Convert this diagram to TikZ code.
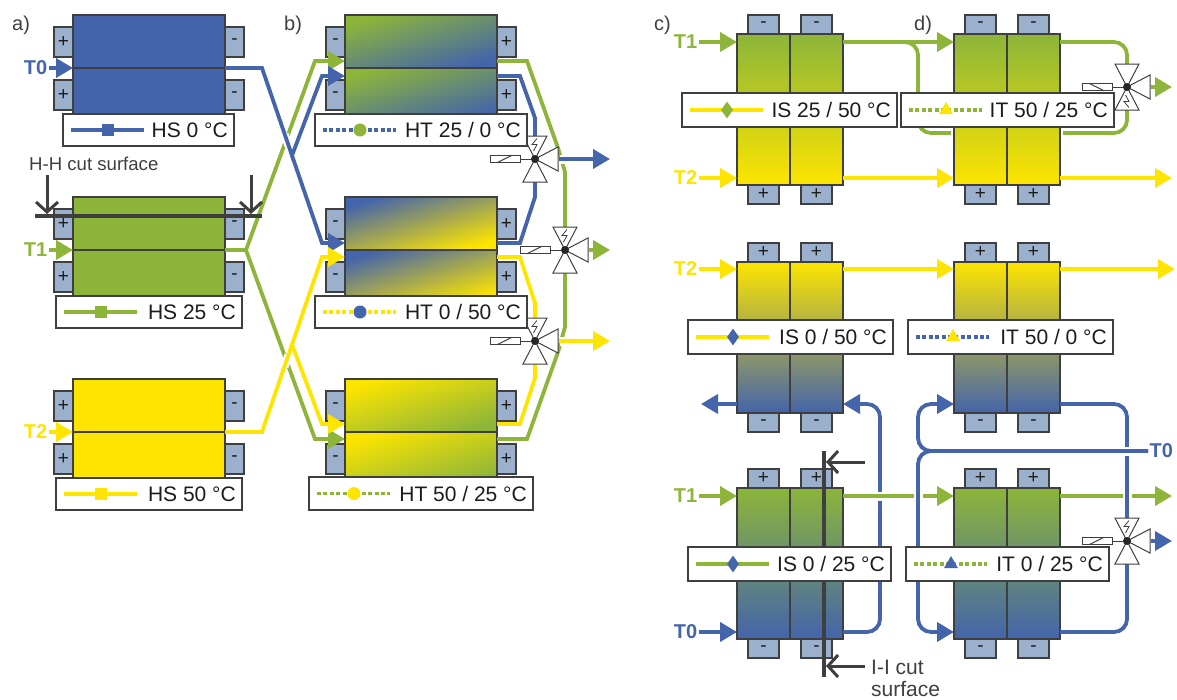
\documentclass[tikz,border=0pt]{standalone}
\usepackage{fontspec}
\setmainfont{Liberation Sans}
\usetikzlibrary{arrows.meta,shapes.geometric}

\definecolor{colblue}{HTML}{4464AB}
\definecolor{colgreen}{HTML}{8CB53A}
\definecolor{colyellow}{HTML}{FDE500}
\definecolor{coltab}{HTML}{9BB0CC}
\definecolor{coledge}{HTML}{3F3F3F}
\definecolor{coltext}{HTML}{1C1C1C}

\tikzset{
  modul/.style={draw=coledge, line width=1.2pt, inner sep=0pt, outer sep=0pt, anchor=north west},
  tabbox/.style={draw=coledge, fill=coltab, line width=1.2pt, inner sep=0pt, outer sep=0pt,
    text=coltext, font=\fontsize{19}{19}\selectfont},
  pipe/.style={line width=3.8pt},
  pipegap/.style={white, line width=9pt},
  legbox/.style={draw=coledge, fill=white, line width=1.2pt, inner sep=0pt, outer sep=0pt, anchor=north west},
  legtext/.style={anchor=east, inner sep=0pt, text=coltext, font=\fontsize{21}{24}\selectfont},
  legsolid/.style={line width=3.8pt},
  legdots/.style={line width=3.8pt, dash pattern=on 4pt off 2.4pt},
  mksquare/.style={rectangle, minimum size=12pt, inner sep=0pt},
  mkcircle/.style={circle, minimum size=13pt, inner sep=0pt},
  mkdiamond/.style={diamond, minimum width=12pt, minimum height=17pt, inner sep=0pt},
  mktriangle/.style={regular polygon, regular polygon sides=3, minimum size=16pt, inner sep=0pt},
  tlabel/.style={anchor=east, inner sep=1.5pt, font=\fontsize{20}{22}\bfseries\selectfont},
  panellabel/.style={anchor=west, inner sep=0pt, text=coledge, font=\fontsize{20}{24}\selectfont},
  cutlabel/.style={anchor=west, inner sep=0pt, text=coledge, font=\fontsize{21}{24}\selectfont},
  cutline/.style={coledge, line width=3.3pt},
  cutarrow/.style={draw=coledge, line width=3pt, shorten >=2pt, -{Straight Barb[length=10pt,width=22pt,line width=3pt]}},
  valvepic/.pic={
    \draw[coledge, line width=1pt] (-20,0) -- (0,0);
    \draw[coledge, line width=1pt, fill=white] (-45,-3.7) rectangle (-15,3.7);
    \draw[coledge, line width=1pt] (-38,3.7) -- (-23,-3.7);
    \draw[coledge, line width=1pt, fill=white] (0,0) -- (-12,-23) -- (12,-23) -- cycle;
    \draw[coledge, line width=1pt, fill=white] (0,0) -- (-12,23) -- (12,23) -- cycle;
    \draw[coledge, line width=1pt, fill=white] (0,0) -- (23,-12) -- (23,12) -- cycle;
    \draw[coledge, line width=0.8pt] (2,-20.5) -- (-3,-14.5) -- (2,-14.5) -- (-1.5,-8);
    \fill[coledge!60!black] (0,0) circle (4);
    \coordinate (-out) at (24,0);
  }
}

\begin{document}
\begin{tikzpicture}[x=1pt, y=-1pt, >={Triangle[length=17pt,width=19pt]}]
  \useasboundingbox (0,0) rectangle (1177,699);

  %--- panel labels ---
  \node[panellabel] (pa) at (12,25)  {a)};
  \node[panellabel] (pb) at (284,25) {b)};
  \node[panellabel] (pc) at (654,25) {c)};
  \node[panellabel] (pd) at (914,25) {d)};

  %--- horizontal stacks a) and b) ---
  \foreach \nm/\xm/\yt/\ca/\cb/\ang/\sgl/\sgr in {
      hsA/73/15/colblue/colblue/0/+/-,
      hsB/73/197/colgreen/colgreen/0/+/-,
      hsC/73/379/colyellow/colyellow/0/+/-,
      htA/345/15/colgreen/colblue/17/-/+,
      htB/345/197/colblue/colyellow/17/-/+,
      htC/345/379/colyellow/colgreen/17/-/+} {
    \node[modul, minimum width=152pt, minimum height=53pt, top color=\ca, bottom color=\cb, shading angle=\ang]
      (\nm t) at (\xm,\yt) {};
    \node[modul, minimum width=152pt, minimum height=53pt, top color=\ca, bottom color=\cb, shading angle=\ang]
      (\nm b) at (\nm t.south west) {};
    \node[tabbox, minimum width=19pt, minimum height=30pt, anchor=north east] (\nm lt) at ([yshift=-12pt]\nm t.north west) {\sgl};
    \node[tabbox, minimum width=19pt, minimum height=30pt, anchor=north east] (\nm lb) at ([yshift=-12pt]\nm b.north west) {\sgl};
    \node[tabbox, minimum width=19pt, minimum height=30pt, anchor=north west] (\nm rt) at ([yshift=-12pt]\nm t.north east) {\sgr};
    \node[tabbox, minimum width=19pt, minimum height=30pt, anchor=north west] (\nm rb) at ([yshift=-12pt]\nm b.north east) {\sgr};
  }

  %--- column pairs c) and d) ---
  \foreach \nm/\xm/\yt/\ca/\cb/\sgt/\sgb in {
      cA/737/34/colgreen/colyellow/-/+,
      dA/954/34/colgreen/colyellow/-/+,
      cB/737/262/colyellow/colblue/+/-,
      dB/954/262/colyellow/colblue/+/-,
      cC/737/488/colgreen/colblue/+/-,
      dC/954/488/colgreen/colblue/+/-} {
    \node[modul, minimum width=53pt, minimum height=151pt, top color=\ca, bottom color=\cb] (\nm l) at (\xm,\yt) {};
    \node[modul, minimum width=53pt, minimum height=151pt, top color=\ca, bottom color=\cb] (\nm r) at (\nm l.north east) {};
    \foreach \sd in {l,r} {
      \node[tabbox, minimum width=31pt, minimum height=19pt, anchor=south] (\nm\sd top) at (\nm\sd.north) {\sgt};
      \node[tabbox, minimum width=31pt, minimum height=19pt, anchor=north] (\nm\sd bot) at (\nm\sd.south) {\sgb};
    }
  }

  %--- temperature labels ---
  \node[tlabel, text=colblue]   (tzA) at (49,68)  {T0};
  \node[tlabel, text=colgreen]  (toA) at (49,250) {T1};
  \node[tlabel, text=colyellow] (ttA) at (49,432) {T2};
  \node[tlabel, text=colgreen]  (toC) at (699,42)  {T1};
  \node[tlabel, text=colyellow] (ttC) at (699,178) {T2};
  \node[tlabel, text=colyellow] (ttB) at (699,269) {T2};
  \node[tlabel, text=colgreen]  (toD) at (699,496) {T1};
  \node[tlabel, text=colblue]   (tzD) at (699,632) {T0};
  \node[tlabel, text=colblue, anchor=west] (tzE) at (1148,451) {T0};

  %--- junctions, valve centres, free ends ---
  \coordinate (jgreen) at (246,250);
  \coordinate (jblue) at (292,155.5);
  \coordinate (jyellow) at (292,344.5);
  \coordinate (vAc) at (535,159);
  \coordinate (vBc) at (565,250);
  \coordinate (vCc) at (535,341);
  \coordinate (vDc) at (1127,87);
  \coordinate (vEc) at (1127,541);
  \coordinate (outA) at (610,159);
  \coordinate (outB) at (610,250);
  \coordinate (outC) at (610,341);
  \coordinate (outD) at (1172,87);
  \coordinate (outE) at (1172,541);
  \coordinate (outF) at (1172,178);
  \coordinate (outG) at (1175,269);
  \coordinate (outH) at (701,404);
  \coordinate (outI) at (1172,496);

  %--- a) inlets ---
  \draw[pipe, colblue, ->]   (tzA.east) -- (hsAt.south west);
  \draw[pipe, colgreen, ->]  (toA.east) -- (hsBt.south west);
  \draw[pipe, colyellow, ->] (ttA.east) -- (hsCt.south west);

  %--- a) to b) ---
  \draw[pipe, colgreen, ->] (hsBt.south east) -- (jgreen) -- (315,61) -- ([yshift=7pt]htAt.south west);
  \draw[pipe, colgreen, ->] (jgreen) -- (315,439) -- ([yshift=-7pt]htCb.north west);
  \draw[pipegap, line width=8pt] (284.5,134) -- (288.5,146);
  \draw[pipegap, line width=8pt] (284.4,367) -- (288.4,355);
  \draw[pipe, colblue, ->] (hsAt.south east) -- (262,68) -- (jblue) -- (322,76) -- ([yshift=-8pt]htAb.north west);
  \draw[pipe, colblue, ->] (jblue) -- (322,243) -- ([yshift=7pt]htBt.south west);
  \draw[pipe, colyellow, ->] (hsCt.south east) -- (262,432) -- (322,257) -- ([yshift=-7pt]htBb.north west);
  \draw[pipe, colyellow, ->] (jyellow) -- (322,424) -- ([yshift=8pt]htCt.south west);

  %--- b) to valves ---
  \draw[pipe, colgreen] ([yshift=7pt]htAt.south east) -- (527,61) -- (558,148) -- (565,172) -- (565,327)
    -- (558,352) -- (527,439) -- ([yshift=-7pt]htCb.north east);
  \draw[pipe, colblue] ([yshift=-8pt]htAb.north east) -- (520,76) -- (535,118) -- (vAc) -- (535,197) -- (520,243)
    -- ([yshift=7pt]htBt.south east);
  \draw[pipe, colyellow] ([yshift=-7pt]htBb.north east) -- (520,257) -- (535,303) -- (vCc) -- (535,378) -- (520,424)
    -- ([yshift=8pt]htCt.south east);

  %--- c) and d), row 1 ---
  \draw[pipe, colgreen, ->] (toC.east) -- (toC.east -| cAl.west);
  \draw[pipe, colgreen, rounded corners=13pt] (cAr.east |- toC) -- (918,42) -- (918,133) -- (951,133);
  \draw[pipe, colgreen, ->] (cAr.east |- toC) -- (dAl.west |- toC);
  \draw[pipe, colgreen, rounded corners=13pt] (dAr.east |- toC) -- (1127,42) -- (vDc);
  \draw[pipe, colgreen, rounded corners=13pt] (1063,133) -- (1127,133) -- (vDc);
  \draw[pipe, colyellow, ->] (ttC.east) -- (ttC.east -| cAl.west);
  \draw[pipe, colyellow, ->] (cAr.east |- ttC) -- (dAl.west |- ttC);
  \draw[pipe, colyellow, ->] (dAr.east |- ttC) -- (outF);

  %--- row 2 and row 3, c) side ---
  \draw[pipe, colyellow, ->] (ttB.east) -- (ttB.east -| cBl.west);
  \draw[pipe, colyellow, ->] (cBr.east |- ttB) -- (dBl.west |- ttB);
  \draw[pipe, colyellow, ->] (dBr.east |- ttB) -- (outG);
  \draw[pipe, colblue, ->] (cBl.west |- outH) -- (outH);
  \draw[pipe, colblue, ->] (tzD.east) -- (tzD.east -| cCl.west);
  \draw[pipe, colblue, ->, rounded corners=13pt] (cCr.east |- tzD) -- (880,632) -- (880,404) -- (cBr.east |- outH);

  %--- green through row 3, blue over it on the d) side ---
  \draw[pipegap] (875,496) -- (885,496);
  \draw[pipe, colgreen, ->] (toD.east) -- (toD.east -| cCl.west);
  \draw[pipe, colgreen, ->] (cCr.east |- toD) -- (dCl.west |- toD);
  \draw[pipe, colgreen, ->] (dCr.east |- toD) -- (outI);
  \draw[pipegap] (918,491) -- (918,501);
  \draw[pipegap] (1127,491) -- (1127,501);
  \draw[pipe, colblue, rounded corners=13pt] (dBr.east |- outH) -- (1127,404) -- (1127,632) -- (dCr.east |- tzD);
  \draw[pipegap] (1122,451) -- (1132,451);
  \draw[pipe, colblue, ->, rounded corners=13pt] (tzE.west) -- (918,451) -- (918,404) -- (dBl.west |- outH);
  \draw[pipe, colblue, ->, rounded corners=13pt] (tzE.west) -- (918,451) -- (918,632) -- (dCl.west |- tzD);

  %--- cut surfaces ---
  \coordinate (cutHa) at (35,216);
  \coordinate (cutHb) at (262,216);
  \coordinate (arHa) at (47,175);
  \coordinate (arHb) at (251,175);
  \draw[cutline] (cutHa) -- (cutHb);
  \draw[cutarrow] (arHa) -- (arHa |- cutHa);
  \draw[cutarrow] (arHb) -- (arHb |- cutHb);
  \node[cutlabel, font=\fontsize{18.6}{22}\selectfont] (cutHt) at (29,164) {H-H cut surface};

  \coordinate (cutIa) at (824,451);
  \coordinate (cutIb) at (824,677);
  \coordinate (arIa) at (865,462);
  \coordinate (arIb) at (865,666);
  \draw[cutline] (cutIa) -- (cutIb);
  \draw[cutarrow] (arIa) -- (arIa -| cutIa);
  \draw[cutarrow] (arIb) -- (arIb -| cutIb);
  \node[cutlabel] (cutIt) at (871,667) {I-I cut};
  \node[cutlabel] (cutIu) at (871,688.5) {surface};

  %--- valves ---
  \pic (vA) at (vAc) {valvepic};
  \pic (vB) at (vBc) {valvepic};
  \pic (vC) at (vCc) {valvepic};
  \pic[yscale=-1] (vD) at (vDc) {valvepic};
  \pic (vE) at (vEc) {valvepic};

  %--- valve outlets ---
  \draw[pipegap] ([xshift=1pt]vA-out) -- ++(10,0);
  \draw[pipegap] ([xshift=1pt]vC-out) -- ++(10,0);
  \draw[pipe, colblue, ->]   (vA-out) -- (outA);
  \draw[pipe, colgreen, ->]  (vB-out) -- (outB);
  \draw[pipe, colyellow, ->] (vC-out) -- (outC);
  \draw[pipe, colgreen, ->]  (vD-out) -- (outD);
  \draw[pipe, colblue, ->]   (vE-out) -- (outE);

  %--- legends ---
  \foreach \nm/\xa/\lgw/\ya/\lgh/\col/\lst/\mk/\mc/\txt in {
      hsA/63/171/114/32/colblue/legsolid/mksquare/colblue/{HS 0 °C},
      hsB/56/186/296/32/colgreen/legsolid/mksquare/colgreen/{HS 25 °C},
      hsC/56/186/478/32/colyellow/legsolid/mksquare/colyellow/{HS 50 °C},
      htA/315/212/114/32/colblue/legdots/mkcircle/colgreen/{HT 25 / 0 °C},
      htB/315/212/296/32/colyellow/legdots/mkcircle/colblue/{HT 0 / 50 °C},
      htC/309/224/477/33/colgreen/legdots/mkcircle/colyellow/{HT 50 / 25 °C},
      isA/682/215/93/34/colyellow/legsolid/mkdiamond/colgreen/{IS 25 / 50 °C},
      itA/901/213/93/34/colgreen/legdots/mktriangle/colyellow/{IT 50 / 25 °C},
      isB/688/205/320/34/colyellow/legsolid/mkdiamond/colblue/{IS 0 / 50 °C},
      itB/908/205/320/34/colblue/legdots/mktriangle/colyellow/{IT 50 / 0 °C},
      isC/688/203/547/34/colgreen/legsolid/mkdiamond/colblue/{IS 0 / 25 °C},
      itC/906/203/547/34/colgreen/legdots/mktriangle/colblue/{IT 0 / 25 °C}} {
    \node[legbox, minimum width=\lgw*1pt, minimum height=\lgh*1pt] (lg\nm) at (\xa,\ya) {};
    \draw[\lst, \col] ([xshift=8pt]lg\nm.west) -- ([xshift=81pt]lg\nm.west);
    \node[\mk, fill=\mc] (mk\nm) at ([xshift=45pt]lg\nm.west) {};
    \node[legtext] (tx\nm) at ([xshift=-6pt]lg\nm.east) {\txt};
  }
\end{tikzpicture}
\end{document}
